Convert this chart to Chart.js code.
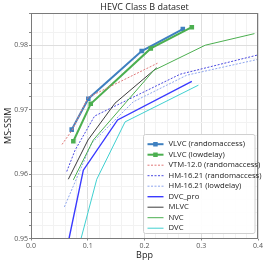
<!DOCTYPE html>
<html>
<head>
<meta charset="utf-8">
<style>
html,body{margin:0;padding:0;background:#fff;}
#wrap{width:266px;height:263px;}
</style>
<script src="https://cdn.jsdelivr.net/npm/chart.js@4.4.1/dist/chart.umd.min.js"></script>
</head>
<body>
<div id="wrap"><canvas id="c" width="266" height="263"></canvas></div>
<script>
const chartTitle = 'HEVC Class B dataset';
const xTitle = 'Bpp';
const yTitle = 'MS-SSIM';
const xTickLabels = ['0.0','0.1','0.2','0.3','0.4'];
const yTickLabels = ['0.95','0.96','0.97','0.98'];

const seriesNames = ['VLVC (randomaccess)','VLVC (lowdelay)','VTM-12.0 (randomaccess)','HM-16.21 (randomaccess)','HM-16.21 (lowdelay)','DVC_pro','MLVC','NVC','DVC'];

const vlvcRaBpp  = [0.0717, 0.101, 0.195, 0.2675];
const vlvcRaSsim = [0.9669, 0.9717, 0.9791, 0.9825];
const vlvcLdBpp  = [0.0746, 0.1053, 0.2111, 0.2834];
const vlvcLdSsim = [0.9651, 0.9709, 0.9795, 0.9828];
const vtmBpp     = [0.0547, 0.0723, 0.1005, 0.2228];
const vtmSsim    = [0.9646, 0.9668, 0.9719, 0.9772];
const hmRaBpp    = [0.063, 0.0776, 0.112, 0.2628, 0.398];
const hmRaSsim   = [0.9604, 0.9637, 0.9690, 0.9755, 0.97845];
const hmLdBpp    = [0.0588, 0.107, 0.18, 0.2746, 0.3986];
const hmLdSsim   = [0.9549, 0.9648, 0.9712, 0.97535, 0.97778];
const dvcProBpp  = [0.067, 0.0922, 0.1526, 0.2834];
const dvcProSsim = [0.950, 0.9606, 0.9684, 0.9744];
const mlvcBpp    = [0.0658, 0.1005, 0.148, 0.2217];
const mlvcSsim   = [0.9592, 0.9653, 0.9710, 0.9765];
const nvcBpp     = [0.0746, 0.1099, 0.2164, 0.307, 0.3938];
const nvcSsim    = [0.9591, 0.9653, 0.9761, 0.9800, 0.9818];
const dvcBpp     = [0.0882, 0.1159, 0.1658, 0.295];
const dvcSsim    = [0.950, 0.9592, 0.9681, 0.9738];

function pts(xs, ys){ return xs.map((x,i)=>({x:x, y:ys[i]})); }

const styles = [
  {c:'#3f80c0', w:2, dash:[], marker:true},
  {c:'#4caf50', w:2, dash:[], marker:true},
  {c:'#e07878', w:1, dash:[2,1.5], marker:false},
  {c:'#4a4ae0', w:1, dash:[2,1.5], marker:false},
  {c:'#8ea6ee', w:1, dash:[2,1.5], marker:false},
  {c:'#3a3aff', w:1.4, dash:[], marker:false},
  {c:'#3c3c3c', w:1, dash:[], marker:false},
  {c:'#4caf50', w:1, dash:[], marker:false},
  {c:'#40d0d0', w:1, dash:[], marker:false}
];
const seriesData = [
  pts(vlvcRaBpp, vlvcRaSsim), pts(vlvcLdBpp, vlvcLdSsim), pts(vtmBpp, vtmSsim),
  pts(hmRaBpp, hmRaSsim), pts(hmLdBpp, hmLdSsim), pts(dvcProBpp, dvcProSsim),
  pts(mlvcBpp, mlvcSsim), pts(nvcBpp, nvcSsim), pts(dvcBpp, dvcSsim)
];

const datasets = seriesNames.map((n,i)=>({
  label: n,
  data: seriesData[i],
  borderColor: styles[i].c,
  backgroundColor: styles[i].c,
  borderWidth: styles[i].w,
  borderDash: styles[i].dash,
  pointStyle: 'rect',
  pointRadius: styles[i].marker ? 3.2 : 0,
  pointBorderWidth: 0,
  tension: 0,
  fill: false
})).reverse();

const FONT = "'Open Sans', 'DejaVu Sans', sans-serif";

function isMajor(v, step){ const q = v/step; return Math.abs(q - Math.round(q)) < 1e-6; }

const framePlugin = {
  id:'frame',
  afterDatasetsDraw(chart){
    const {ctx, chartArea:a} = chart;
    ctx.save();
    ctx.strokeStyle = '#7a7a7a';
    ctx.lineWidth = 1;
    ctx.strokeRect(Math.round(a.left)+0.5, Math.round(a.top)+0.5, Math.round(a.right-a.left)-1, Math.round(a.bottom-a.top)-1);
    ctx.restore();
  },
  afterDraw(chart){
    const {ctx, chartArea:a} = chart;
    ctx.save();
    ctx.fillStyle = '#222';
    ctx.font = "9px " + FONT;
    ctx.textAlign = 'center';
    ctx.textBaseline = 'middle';
    ctx.fillText(chartTitle, (a.left+a.right)/2, 7.5);
    const bx = 143.5, by = 134.5, bw = 111.5, bh = 99;
    ctx.beginPath();
    if (ctx.roundRect) ctx.roundRect(bx, by, bw, bh, 2); else ctx.rect(bx,by,bw,bh);
    ctx.fillStyle = 'rgba(255,255,255,0.92)';
    ctx.fill();
    ctx.strokeStyle = '#d0d0d0';
    ctx.lineWidth = 1;
    ctx.stroke();
    ctx.font = "7.7px " + FONT;
    ctx.textAlign = 'left';
    ctx.textBaseline = 'middle';
    seriesNames.forEach((n,i)=>{
      const y = 144.2 + i*10.5;
      const s = styles[i];
      ctx.save();
      ctx.strokeStyle = s.c;
      ctx.lineWidth = s.w;
      ctx.setLineDash(s.dash);
      ctx.beginPath();
      ctx.moveTo(147.5, y); ctx.lineTo(163.5, y);
      ctx.stroke();
      ctx.restore();
      if (s.marker){
        ctx.fillStyle = s.c;
        ctx.fillRect(153.2, y-2.2, 4.5, 4.5);
      }
      ctx.fillStyle = '#222';
      ctx.fillText(n, 168.5, y);
    });
    ctx.restore();
  }
};

new Chart(document.getElementById('c'), {
  type:'line',
  data:{datasets},
  options:{
    responsive:false,
    animation:false,
    devicePixelRatio:1,
    layout:{padding:{top:13, right:8, left:0, bottom:0}},
    plugins:{legend:{display:false}, title:{display:false}, tooltip:{enabled:false}},
    elements:{line:{borderCapStyle:'butt'}},
    scales:{
      x:{
        type:'linear', min:0, max:0.4,
        afterFit(s){ s.height = 24.5; },
        ticks:{
          stepSize:0.02, autoSkip:false, maxRotation:0, padding:1,
          color:'#555', font:{family:FONT, size:7},
          callback(v){ const t = v.toFixed(1); return (isMajor(v,0.1) && xTickLabels.includes(t)) ? t : ''; }
        },
        grid:{
          color(ctx){ return isMajor(ctx.tick.value,0.1) ? '#dedede' : '#f2f2f2'; },
          tickLength:2,
          tickColor(ctx){ return isMajor(ctx.tick.value,0.1) ? '#888' : 'rgba(0,0,0,0)'; }
        },
        border:{display:false},
        title:{display:true, text:xTitle, color:'#222', font:{family:FONT, size:9}, padding:{top:0,bottom:2.5}}
      },
      y:{
        type:'linear', min:0.95, max:0.985,
        afterFit(s){ s.width = 31; },
        ticks:{
          stepSize:0.002, autoSkip:false, padding:1,
          color:'#555', font:{family:FONT, size:7},
          callback(v){ const t = v.toFixed(2); return (isMajor(v,0.01) && yTickLabels.includes(t)) ? t : ''; }
        },
        grid:{
          color(ctx){ return isMajor(ctx.tick.value,0.01) ? '#dedede' : '#f2f2f2'; },
          tickLength:2,
          tickColor:'#888'
        },
        border:{display:false},
        title:{display:true, text:yTitle, color:'#222', font:{family:FONT, size:9}, padding:{top:3.5,bottom:0}}
      }
    }
  },
  plugins:[framePlugin]
});
</script>
</body>
</html>
